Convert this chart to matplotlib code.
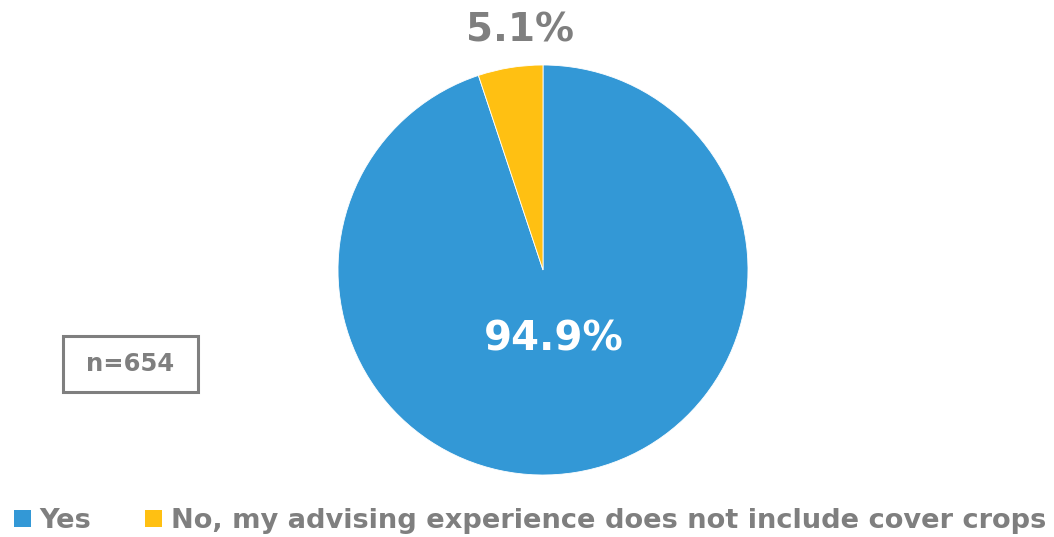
import matplotlib.pyplot as plt
from matplotlib.patches import Patch, Rectangle

labels = ["Yes", "No, my advising experience does not include cover crops"]
values = [94.9, 5.1]
colors = ["#3398D6", "#FFC012"]
sample_note = "n=654"

W, H = 1054, 537
fig = plt.figure(figsize=(W / 100, H / 100), dpi=100)
plt.rcParams['font.family'] = ['DejaVu Sans']
gray = "#7F7F7F"

# Pie axes: centre (543, 270), radius 205 px
cx, cy, r = 543, 270, 205
ax = fig.add_axes([(cx - r) / W, 1 - (cy + r) / H, 2 * r / W, 2 * r / H])
wedges, _ = ax.pie(values, colors=colors, startangle=90, counterclock=False,
                   wedgeprops=dict(linewidth=0.6, edgecolor="white"))
ax.set_aspect("equal")
ax.set_xlim(-1, 1)
ax.set_ylim(-1, 1)

# Value labels
ax.text(0.05, -0.34, f"{values[0]:.1f}%", color="white", fontsize=29,
        fontweight="bold", ha="center", va="center")
ax.text(-0.11, 1.17, f"{values[1]:.1f}%", color=gray, fontsize=28,
        fontweight="bold", ha="center", va="center")

# Sample size box
fig.patches.append(Rectangle((63 / W, 1 - 392 / H), 135 / W, 56 / H,
                             transform=fig.transFigure, facecolor="white",
                             edgecolor=gray, linewidth=2.2, zorder=1))
fig.text(130 / W, 1 - 364 / H, sample_note, color=gray, fontsize=17.5,
         fontweight="bold", ha="center", va="center", zorder=2)

handles = [Patch(facecolor=c, edgecolor="none") for c in colors]
fig.legend(handles, labels, loc="center", bbox_to_anchor=(530 / W, 1 - 521 / H),
           ncol=2, frameon=False, labelcolor=gray,
           prop=dict(weight="bold", size=19.6),
           handlelength=0.62, handleheight=0.62, handletextpad=0.3,
           columnspacing=2.0, borderpad=0, borderaxespad=0)

fig.savefig("out.png", dpi=100, facecolor="white")
